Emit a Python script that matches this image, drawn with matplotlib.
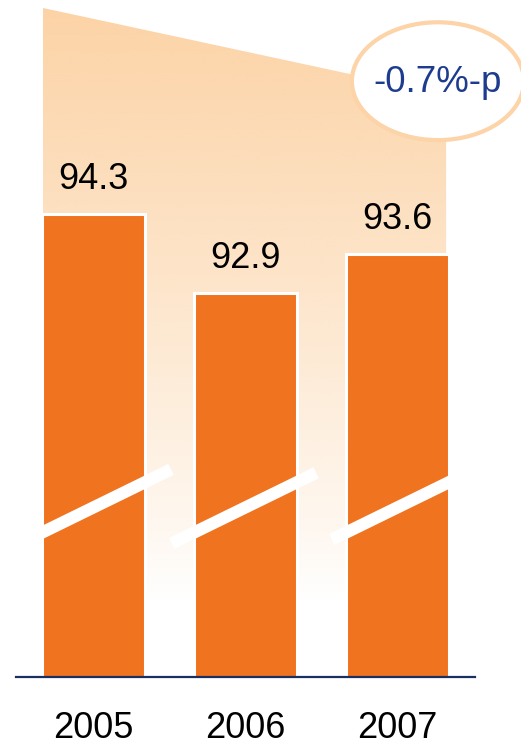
import numpy as np
import matplotlib.pyplot as plt
from matplotlib.patches import Polygon, Ellipse, Rectangle

plt.rcParams['font.family'] = ['Liberation Sans', 'DejaVu Sans']

# Data
years = ['2005', '2006', '2007']
values = [94.3, 92.9, 93.6]
change_label = '-0.7%-p'

# Colours
bar_color = '#F07320'
peach = np.array([252, 211, 166]) / 255
navy_line = '#1B2F5E'
navy_text = '#1E3C8E'

fig = plt.figure(figsize=(5.21, 7.46), dpi=100)
ax = fig.add_axes([16 / 521, 69 / 746, 459 / 521, 677 / 746])
y_lo, y_hi = 86.09, 98.10
ax.set_xlim(-0.51, 2.51)
ax.set_ylim(y_lo, y_hi)

x = np.arange(len(years))
bw = 0.68

# Shaded trend band behind the bars, fading to white towards the baseline
band_left, band_right = x[0] - bw / 2 + 0.005, x[-1] + bw / 2 - 0.02
band_top_l, band_top_r = 97.96, 96.42
band = Polygon([(band_left, band_top_l), (band_right, band_top_r),
                (band_right, y_lo), (band_left, y_lo)],
               closed=True, facecolor='none', edgecolor='none')
ax.add_patch(band)
ys = np.linspace(band_top_l, y_lo, 400)
frac = np.clip((ys - 87.45) / (band_top_l - 87.45), 0, 1) ** 0.85
grad = np.zeros((len(ys), 1, 4))
grad[:, 0, :3] = peach
grad[:, 0, 3] = frac
img = ax.imshow(grad, extent=(band_left, band_right, y_lo, band_top_l),
                origin='upper', aspect='auto', zorder=0, interpolation='bilinear')
img.set_clip_path(band)

# Bars
ax.bar(x, values, width=bw, color=bar_color, edgecolor='white',
       linewidth=2.2, zorder=2)

# Value labels
for xi, v in zip(x, values):
    ax.annotate(f'{v:.1f}', (xi, v), xytext=(0, 18), textcoords='offset points',
                ha='center', va='baseline', fontsize=26, color='black', zorder=5)

# Axis-break stripes across the bars
slope = 1.32
y_start = 88.65
extents = [(0.0, 0.17), (0.145, 0.125), (0.092, 0.0)]
for xi, (ext_l, ext_r) in zip(x, extents):
    left, right = xi - bw / 2, xi + bw / 2
    xs = np.array([left - ext_l - (0.05 if ext_l == 0 else 0),
                   right + ext_r + (0.05 if ext_r == 0 else 0)])
    line, = ax.plot(xs, y_start + slope * (xs - left), color='white',
                    lw=8.8, solid_capstyle='butt', zorder=3)
    clip_l = left if ext_l == 0 else left - 1
    clip_r = right if ext_r == 0 else right + 1
    clip = Rectangle((clip_l, y_lo), clip_r - clip_l, y_hi - y_lo,
                     transform=ax.transData, facecolor='none', edgecolor='none')
    line.set_clip_path(clip)

# Change bubble
bubble = Ellipse((2.266, 96.66), 1.132, 2.09, facecolor='white',
                 edgecolor='#FDD3A8', linewidth=3.0, zorder=4, clip_on=False)
ax.add_patch(bubble)
ax.text(2.266, 96.64, change_label, ha='center', va='center', fontsize=26.5,
        color=navy_text, zorder=5, clip_on=False)

# Axes styling
for side in ['top', 'right', 'left']:
    ax.spines[side].set_visible(False)
ax.spines['bottom'].set_color(navy_line)
ax.spines['bottom'].set_linewidth(1.6)
ax.set_yticks([])
ax.set_xticks(x, years)
ax.tick_params(axis='x', length=0, pad=24.5, labelsize=26, labelcolor='black')
ax.set_facecolor('none')

fig.savefig('out.png', dpi=100)
